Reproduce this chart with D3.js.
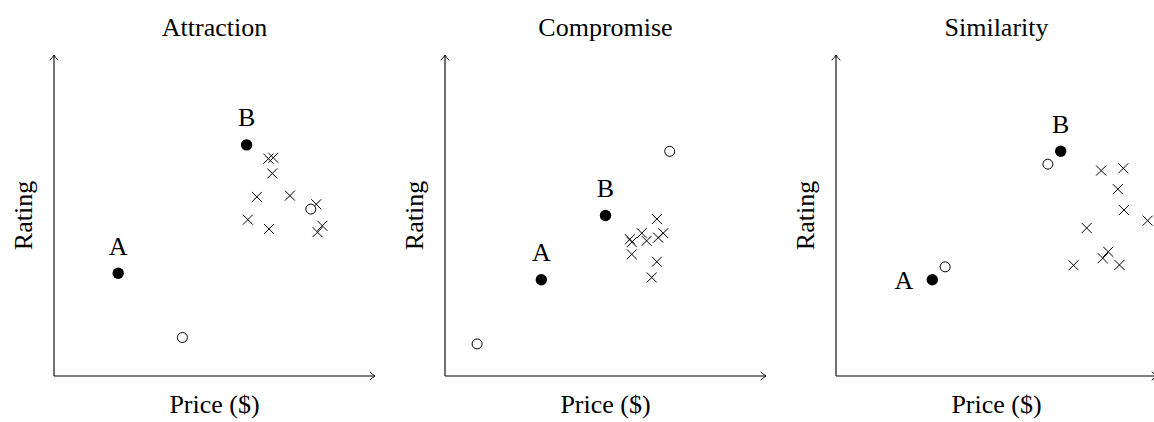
<!DOCTYPE html>
<html>
<head>
<meta charset="utf-8">
<script src="https://cdn.jsdelivr.net/npm/d3@7"></script>
<style>
  html, body { margin: 0; padding: 0; background: #fff; }
  svg { display: block; }
  text { font-family: "Liberation Serif", "Times New Roman", serif; fill: #000; }
</style>
</head>
<body>
<svg id="chart" width="1154" height="422"></svg>
<script>
// Context-effect scenarios: two focal options (A, B), the added decoy options
// (open circles) and the surrounding competitor options (crosses).
const panelTitles = ["Attraction", "Compromise", "Similarity"];
const xLabel = "Price ($)";
const yLabel = "Rating";

const focalA = [[2.0, 3.2], [3.0, 3.0], [3.0, 3.0]];
const focalB = [[6.0, 7.2], [5.0, 5.0], [7.0, 7.0]];
const labelSideA = ["above", "above", "left"];
const labelSideB = ["above", "above", "above"];

const decoys = [
  [[4.0, 1.2], [8.0, 5.2]],
  [[1.0, 1.0], [7.0, 7.0]],
  [[3.4, 3.4], [6.6, 6.6]]
];

const competitorsAttraction = [
  [6.68, 6.77], [6.83, 6.80], [6.80, 6.31], [6.32, 5.58], [7.35, 5.62],
  [8.17, 5.35], [6.04, 4.87], [6.70, 4.58], [8.36, 4.68], [8.21, 4.48]
];
const competitorsCompromise = [
  [6.60, 4.89], [6.13, 4.45], [6.28, 4.21], [5.76, 4.26], [5.82, 4.17],
  [5.82, 3.79], [6.80, 4.45], [6.64, 4.31], [6.60, 3.56], [6.44, 3.07]
];
const competitorsSimilarity = [
  [8.26, 6.40], [8.95, 6.47], [8.78, 5.82], [8.97, 5.17], [9.71, 4.84],
  [7.81, 4.61], [7.40, 3.45], [8.31, 3.67], [8.48, 3.87], [8.83, 3.46]
];
const competitors = [competitorsAttraction, competitorsCompromise, competitorsSimilarity];

const axisDomain = [0, 10];

// Layout
const panelLeft = 54, panelStep = 391, axisLen = 321, axisBottom = 376;
const fontSize = 26;

const svg = d3.select("#chart");

panelTitles.forEach((title, i) => {
  const ox = panelLeft + i * panelStep;
  const x = d3.scaleLinear().domain(axisDomain).range([ox, ox + axisLen]);
  const y = d3.scaleLinear().domain(axisDomain).range([axisBottom, axisBottom - axisLen]);
  const g = svg.append("g");

  // axes with open arrow tips
  const x0 = x(axisDomain[0]), x1 = x(axisDomain[1]);
  const y0 = y(axisDomain[0]), y1 = y(axisDomain[1]);
  g.append("path")
    .attr("d", `M${x0},${y0}H${x1 - 0.5}M${x0},${y0}V${y1 + 0.5}`)
    .attr("fill", "none").attr("stroke", "#000").attr("stroke-width", 1.1);
  g.append("path")
    .attr("d", `M${x1 - 5},${y0 - 4} Q${x1 - 2},${y0 - 1} ${x1},${y0} Q${x1 - 2},${y0 + 1} ${x1 - 5},${y0 + 4}`)
    .attr("fill", "none").attr("stroke", "#000").attr("stroke-width", 1)
    .attr("stroke-linecap", "round");
  g.append("path")
    .attr("d", `M${x0 - 4},${y1 + 5} Q${x0 - 1},${y1 + 2} ${x0},${y1} Q${x0 + 1},${y1 + 2} ${x0 + 4},${y1 + 5}`)
    .attr("fill", "none").attr("stroke", "#000").attr("stroke-width", 1)
    .attr("stroke-linecap", "round");

  // titles and axis labels
  const cx = (x0 + x1) / 2, cy = (y0 + y1) / 2;
  g.append("text").attr("x", cx).attr("y", 35.5)
    .attr("text-anchor", "middle").attr("font-size", fontSize).text(title);
  g.append("text").attr("x", cx).attr("y", 413)
    .attr("text-anchor", "middle").attr("font-size", fontSize).text(xLabel);
  g.append("text")
    .attr("transform", `translate(${x0 - 22.5},${cy}) rotate(-90)`)
    .attr("text-anchor", "middle").attr("font-size", fontSize).text(yLabel);

  // competitor options
  const s = 5;
  g.selectAll("path.comp").data(competitors[i]).join("path")
    .attr("class", "comp")
    .attr("d", d => {
      const px = x(d[0]), py = y(d[1]);
      return `M${px - s},${py - s}L${px + s},${py + s}M${px - s},${py + s}L${px + s},${py - s}`;
    })
    .attr("stroke", "#000").attr("stroke-width", 1).attr("fill", "none");

  // decoy options
  g.selectAll("circle.decoy").data(decoys[i]).join("circle")
    .attr("class", "decoy")
    .attr("cx", d => x(d[0])).attr("cy", d => y(d[1])).attr("r", 5)
    .attr("fill", "#fff").attr("stroke", "#000").attr("stroke-width", 1);

  // focal options with labels
  const focal = [
    { p: focalA[i], name: "A", side: labelSideA[i] },
    { p: focalB[i], name: "B", side: labelSideB[i] }
  ];
  g.selectAll("circle.focal").data(focal).join("circle")
    .attr("class", "focal")
    .attr("cx", d => x(d.p[0])).attr("cy", d => y(d.p[1])).attr("r", 5.7)
    .attr("fill", "#000");
  g.selectAll("text.focal").data(focal).join("text")
    .attr("class", "focal")
    .attr("font-size", fontSize)
    .attr("text-anchor", d => d.side === "left" ? "end" : "middle")
    .attr("x", d => d.side === "left" ? x(d.p[0]) - 19 : x(d.p[0]))
    .attr("y", d => d.side === "left" ? y(d.p[1]) + 9 : y(d.p[1]) - 18.5)
    .text(d => d.name);
});
</script>
</body>
</html>
